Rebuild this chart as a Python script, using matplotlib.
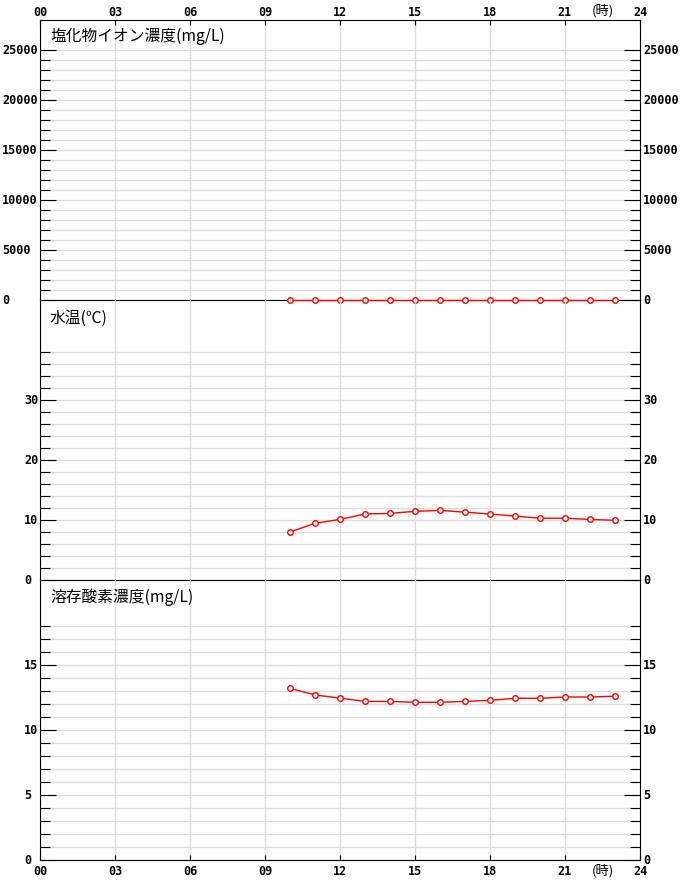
import matplotlib.pyplot as plt

plt.rcParams['font.family'] = ['Noto Sans CJK JP', 'DejaVu Sans']

# hourly readings (hours 10..23)
hours = [10, 11, 12, 13, 14, 15, 16, 17, 18, 19, 20, 21, 22, 23]
chloride = [0, 0, 0, 0, 0, 0, 0, 0, 0, 0, 0, 0, 0, 0]
water_temp = [8.0, 9.45, 10.1, 11.0, 11.1, 11.45, 11.6, 11.3, 11.0, 10.65, 10.3, 10.3, 10.1, 9.95]
dissolved_oxygen = [13.2, 12.7, 12.45, 12.2, 12.2, 12.13, 12.13, 12.2, 12.28, 12.44, 12.44, 12.54, 12.54, 12.6]

x_ticks = [0, 3, 6, 9, 12, 15, 18, 21, 24]
x_labels = ['00', '03', '06', '09', '12', '15', '18', '21', '24']

titles = ['塩化物イオン濃度(mg/L)', '水温(℃)', '溶存酸素濃度(mg/L)']
series = [chloride, water_temp, dissolved_oxygen]
y_max = [28000, 46.67, 21.54]
y_major = [[0, 5000, 10000, 15000, 20000, 25000], [0, 10, 20, 30], [0, 5, 10, 15]]
y_minor = [list(range(0, 26000, 1000)), list(range(0, 40, 2)), list(range(0, 19, 1))]

W, H = 680, 880
fig = plt.figure(figsize=(W / 100, H / 100), dpi=100)
fig.patch.set_facecolor('white')

num_font = dict(family='DejaVu Sans Mono', fontweight='bold', fontsize=8.5)
grid_col = '#dcdcdc'
label_left_px = [2, 24, 24]

axes = []
for i in range(3):
    top_px = 20 + i * 280
    ax = fig.add_axes([40 / W, (H - top_px - 280) / H, 600 / W, 280 / H])
    axes.append(ax)
    ax.set_facecolor('none')
    ax.set_xlim(0, 24)
    ax.set_ylim(0, y_max[i])
    ax.set_axisbelow(True)

    ax.set_xticks(x_ticks)
    ax.set_yticks(y_major[i])
    ax.set_yticks(y_minor[i], minor=True)
    ax.grid(True, axis='x', which='major', color=grid_col, lw=1.0)
    ax.grid(True, axis='y', which='both', color=grid_col, lw=1.0)

    ax.tick_params(axis='y', which='both', direction='in', left=True, right=True,
                   labelleft=False, labelright=False, width=0.8, color='black')
    ax.tick_params(axis='y', which='major', length=11.5)
    ax.tick_params(axis='y', which='minor', length=7.2)
    ax.tick_params(axis='x', direction='in', length=3.6, width=0.8,
                   top=(i == 0), bottom=(i == 2), labeltop=False, labelbottom=False)
    for s in ax.spines.values():
        s.set_linewidth(0.8)
        s.set_color('black')
    if i > 0:
        ax.spines['top'].set_visible(False)

    ytr = ax.get_yaxis_transform()
    for v in y_major[i]:
        ax.text(-(40 - label_left_px[i]) / 600, v, str(v), transform=ytr,
                ha='left', va='center', **num_font)
        ax.text(1 + 3 / 600, v, str(v), transform=ytr,
                ha='left', va='center', **num_font)

    ax.text(10 / 600, 1 - (16 if i == 0 else 18 if i == 1 else 17) / 280, titles[i],
            transform=ax.transAxes, ha='left', va='center', fontsize=11.3)

    ax.plot(hours, series[i], color='red', lw=1.0, marker='o', markersize=4,
            markerfacecolor='white', markeredgecolor='red', markeredgewidth=1.0,
            clip_on=False, zorder=5)

xtr_top = axes[0].get_xaxis_transform()
xtr_bot = axes[2].get_xaxis_transform()
for v, lab in zip(x_ticks, x_labels):
    axes[0].text(v, 1 + 7 / 280, lab, transform=xtr_top, ha='center', va='center', **num_font)
    axes[2].text(v, -11 / 280, lab, transform=xtr_bot, ha='center', va='center', **num_font)
axes[0].text(22.5, 1 + 9.5 / 280, '(時)', transform=xtr_top, ha='center', va='center', fontsize=9.5)
axes[2].text(22.5, -11 / 280, '(時)', transform=xtr_bot, ha='center', va='center', fontsize=9.5)

fig.savefig('out.png', dpi=100)
